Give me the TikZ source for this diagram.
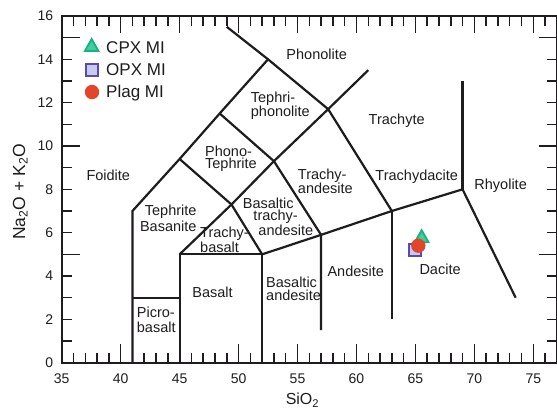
\documentclass[tikz,border=0pt]{standalone}
\usepackage{fontspec}
\setmainfont{Liberation Sans}
\definecolor{cpxfill}{RGB}{66,206,160}
\definecolor{cpxdraw}{RGB}{22,178,128}
\definecolor{opxfill}{RGB}{200,202,238}
\definecolor{opxdraw}{RGB}{88,74,180}
\definecolor{plagfill}{RGB}{226,70,42}
\definecolor{ink}{RGB}{30,28,30}
\begin{document}
\begin{tikzpicture}[x=11.79pt,y=21.67pt,
  bnd/.style={line width=2.2pt, line join=miter, draw=ink},
  frame/.style={line width=1.8pt, draw=ink},
  tick/.style={line width=1.5pt, draw=ink},
  lab/.style={inner sep=0pt, text=ink, font=\fontsize{14.5}{13}\selectfont},
  ticklab/.style={inner sep=0pt, text=ink, font=\fontsize{14}{16}\selectfont},
  axlab/.style={inner sep=0pt, text=ink},
  leg/.style={inner sep=0pt, text=ink, anchor=base west, font=\fontsize{17}{19}\selectfont},
  tri/.pic={\draw[fill=cpxfill, draw=cpxdraw, line width=1.8pt, line join=miter] (-6.8pt,-5.8pt) -- (6.8pt,-5.8pt) -- (0pt,6.2pt) -- cycle;},
  sq/.pic={\draw[fill=opxfill, draw=opxdraw, line width=2pt] (-6pt,-6pt) rectangle (6pt,6pt);},
  dot/.pic={\fill[plagfill] (0,0) circle (7.2pt);}
]
\useasboundingbox (29.767,-2.137) rectangle (77.01,16.737);

% TAS vertices
\coordinate (a0) at (41,0);
\coordinate (a3) at (41,3);
\coordinate (a7) at (41,7);
\coordinate (b0) at (45,0);
\coordinate (b3) at (45,3);
\coordinate (b5) at (45,5);
\coordinate (b94) at (45,9.4);
\coordinate (c0) at (52,0);
\coordinate (c5) at (52,5);
\coordinate (d) at (49.4,7.3);
\coordinate (e) at (48.4,11.5);
\coordinate (f) at (53,9.3);
\coordinate (g) at (52.5,14);
\coordinate (gtop) at (49,15.5);
\coordinate (h) at (57.6,11.7);
\coordinate (htop) at (61,13.5);
\coordinate (i) at (57,5.9);
\coordinate (ibot) at (57,1.5);
\coordinate (j) at (63,7);
\coordinate (jbot) at (63,2);
\coordinate (k) at (69,8);
\coordinate (ktop) at (69,13);
\coordinate (kbot) at (73.5,3);

% boundaries
\draw[bnd] (a0) -- (a7) -- (b94) -- (e) -- (g) -- (h) -- (j) -- (k) -- (kbot);
\draw[bnd] (g) -- (gtop);
\draw[bnd] (a3) -- (b3);
\draw[bnd] (b0) -- (b5) -- (c5) -- (c0);
\draw[bnd] (b5) -- (d) -- (f) -- (h) -- (htop);
\draw[bnd] (b94) -- (d) -- (c5) -- (i) -- (j);
\draw[bnd] (e) -- (f) -- (i) -- (ibot);
\draw[bnd] (j) -- (jbot);
\draw[bnd] (ktop) -- (k);

% frame and ticks
\draw[frame] (35,0) rectangle (77,16);
\foreach \x in {36,...,76} \draw[tick] (\x,0) -- (\x,0.46) (\x,16) -- (\x,15.54);
\foreach \x in {40,45,...,75} \draw[tick] (\x,0) -- (\x,0.85) (\x,16) -- (\x,15.22);
\foreach \y in {1,...,15} \draw[tick] (35,\y) -- (35.85,\y) (77,\y) -- (76.15,\y);
\foreach \y in {5,10,15} \draw[tick] (35,\y) -- (36.55,\y) (77,\y) -- (75.45,\y);

\foreach \x in {35,40,...,75} \node[ticklab, anchor=north] (xl\x) at (\x,-0.49) {\x};
\foreach \y in {0,2,...,16} \node[ticklab, anchor=east] (yl\y) at (34.29,\y) {\y};

\node[axlab, anchor=base, font=\fontsize{16}{18}\selectfont] (xlab) at (55.42,-1.95) {SiO\textsubscript{2}};
\node[axlab, anchor=base, rotate=90, font=\fontsize{17.5}{19}\selectfont] (ylab) at (31.89,7.88) {Na\textsubscript{2}O + K\textsubscript{2}O};

% field labels
\node[lab, anchor=base] (phonolite) at (56.63,13.97) {Phonolite};
\node[lab, anchor=base] (trachyte) at (63.41,10.97) {Trachyte};
\node[lab, anchor=base] (trachydacite) at (65.11,8.43) {Trachydacite};
\node[lab, anchor=base] (rhyolite) at (72.23,7.97) {Rhyolite};
\node[lab, anchor=base] (dacite) at (67.09,4.05) {Dacite};
\node[lab, anchor=base] (andesite) at (59.94,4.0) {Andesite};
\node[lab, anchor=base] (basalt) at (47.79,2.99) {Basalt};
\node[lab, anchor=base] (foidite) at (38.95,8.40) {Foidite};
\node[lab, anchor=north west, align=left, font=\fontsize{14.5}{13.4}\selectfont] (tephriphon) at (51.03,12.51) {Tephri-\\phonolite};
\node[lab, anchor=north west, align=left, font=\fontsize{14.5}{11.8}\selectfont] (phonoteph) at (47.15,10.0) {Phono-\\Tephrite};
\node[lab, anchor=north west, align=left, font=\fontsize{14.5}{11}\selectfont] (trachyand) at (55.02,8.97) {Trachy-\\andesite};
\node[lab, anchor=north west, align=left, font=\fontsize{14.5}{12.3}\selectfont] (btrachyand) at (50.35,7.62) {Basaltic\\\hspace*{10.6pt}trachy-\\\hspace*{15.6pt}andesite};
\node[lab, anchor=north east, align=right, font=\fontsize{14.5}{15.7}\selectfont] (tephbas) at (46.45,7.28) {Tephrite\\Basanite};
\node[lab, anchor=north west, align=left, font=\fontsize{14.5}{11.7}\selectfont] (trachybas) at (46.73,6.26) {Trachy-\\basalt};
\node[lab, anchor=north west, align=left, font=\fontsize{14.5}{15}\selectfont] (picro) at (41.36,2.57) {Picro-\\basalt};
\node[lab, anchor=north west, align=left, font=\fontsize{14.5}{12.7}\selectfont] (basand) at (52.33,3.97) {Basaltic\\andesite};

% legend
\pic at (37.54,14.65) {tri};
\pic at (37.57,13.52) {sq};
\pic at (37.57,12.49) {dot};
\node[leg] (lcpx) at (38.76,14.28) {CPX MI};
\node[leg] (lopx) at (38.76,13.23) {OPX MI};
\node[leg] (lplag) at (38.76,12.23) {Plag MI};

% data
\pic at (64.95,5.19) {sq};
\pic at (65.53,5.83) {tri};
\pic at (65.25,5.40) {dot};
\end{tikzpicture}
\end{document}
